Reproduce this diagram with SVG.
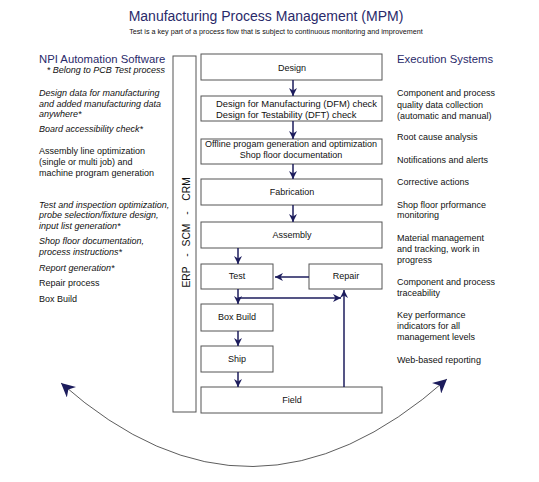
<svg xmlns="http://www.w3.org/2000/svg" width="539" height="482" viewBox="0 0 539 482">
<defs>
<style>
.box{fill:#fff;stroke:#555;stroke-width:1}
.t{font-family:"Liberation Sans",Arial,sans-serif;font-size:9px;fill:#111}
.c{text-anchor:middle}
.i{font-style:italic}
.hd{font-family:"Liberation Sans",Arial,sans-serif;font-size:11.3px;fill:#2a2a6a}
.v{font-family:"Liberation Sans",Arial,sans-serif;font-size:10.3px;fill:#111;text-anchor:middle}
.flow{stroke:#1c1c5c;stroke-width:1.5;fill:none}
.arc{stroke:#333;stroke-width:0.8;fill:none}
</style>
<marker id="ah" viewBox="0 0 10 10" refX="10" refY="5" markerWidth="8" markerHeight="8" markerUnits="userSpaceOnUse" orient="auto">
<path d="M0,0 L10,5 L0,10 L3,5 Z" fill="#1c1c5c"/>
</marker>
<marker id="ab" viewBox="0 0 10 10" refX="10" refY="5" markerWidth="14" markerHeight="14" markerUnits="userSpaceOnUse" orient="auto-start-reverse">
<path d="M0,0 L10,5 L0,10 L3,5 Z" fill="#1c1c5c"/>
</marker>
</defs>
<rect width="539" height="482" fill="#fff"/>
<g id="title">
<text x="266" y="21" class="c" style="font-family:'Liberation Sans',Arial,sans-serif;font-size:14px;fill:#2a2a6a">Manufacturing Process Management (MPM)</text>
<text x="276" y="34" class="c" style="font-family:'Liberation Sans',Arial,sans-serif;font-size:7.2px;fill:#111">Test is a key part of a process flow that is subject to continuous monitoring and improvement</text>
</g>
<g id="npi">
<text x="39" y="63" class="hd">NPI Automation Software</text>
<text x="165" y="73" class="t i" text-anchor="end">* Belong to PCB Test process</text>
<text x="39" y="96" class="t i">Design data for manufacturing</text>
<text x="39" y="107" class="t i">and added manufacturing data</text>
<text x="39" y="117" class="t i">anywhere*</text>
<text x="39" y="132" class="t i">Board accessibility check*</text>
<text x="39" y="154" class="t">Assembly line optimization</text>
<text x="39" y="165" class="t">(single or multi job) and</text>
<text x="39" y="176" class="t">machine program generation</text>
<text x="39" y="208" class="t i">Test and inspection optimization,</text>
<text x="39" y="218" class="t i">probe selection/fixture design,</text>
<text x="39" y="229" class="t i">input list generation*</text>
<text x="39" y="244" class="t i">Shop floor documentation,</text>
<text x="39" y="255" class="t i">process instructions*</text>
<text x="39" y="271" class="t i">Report generation*</text>
<text x="39" y="286" class="t">Repair process</text>
<text x="39" y="302" class="t">Box Build</text>
</g>
<g id="exec">
<text x="397" y="63" class="hd">Execution Systems</text>
<text x="397" y="96" class="t">Component and process</text>
<text x="397" y="108" class="t">quality data collection</text>
<text x="397" y="119" class="t">(automatic and manual)</text>
<text x="397" y="140" class="t">Root cause analysis</text>
<text x="397" y="163" class="t">Notifications and alerts</text>
<text x="397" y="185" class="t">Corrective actions</text>
<text x="397" y="208" class="t">Shop floor prformance</text>
<text x="397" y="218" class="t">monitoring</text>
<text x="397" y="241" class="t">Material management</text>
<text x="397" y="252" class="t">and tracking, work in</text>
<text x="397" y="263" class="t">progress</text>
<text x="397" y="285" class="t">Component and process</text>
<text x="397" y="296" class="t">traceability</text>
<text x="397" y="318" class="t">Key performance</text>
<text x="397" y="329" class="t">indicators for all</text>
<text x="397" y="340" class="t">management levels</text>
<text x="397" y="363" class="t">Web-based reporting</text>
</g>
<g id="erp">
<rect x="173" y="56" width="23" height="356" class="box"/>
<text transform="translate(189.5,277) rotate(-90)" class="v">ERP</text>
<text transform="translate(189.5,255) rotate(-90)" class="v">-</text>
<text transform="translate(189.5,235) rotate(-90)" class="v">SCM</text>
<text transform="translate(189.5,213) rotate(-90)" class="v">-</text>
<text transform="translate(189.5,189) rotate(-90)" class="v">CRM</text>
</g>
<g id="design"><rect x="201" y="54" width="181" height="26" class="box"/><text x="292" y="71" class="t c">Design</text></g>
<g id="dfm"><rect x="201" y="96" width="181" height="25" class="box"/><text x="216" y="107" class="t" style="font-size:9.4px">Design for Manufacturing (DFM) check</text><text x="216" y="118" class="t" style="font-size:9.4px">Design for Testability (DFT) check</text></g>
<g id="offline"><rect x="201" y="139" width="181" height="25" class="box"/><text x="291" y="147" class="t c">Offline progam generation and optimization</text><text x="291" y="158" class="t c">Shop floor documentation</text></g>
<g id="fabrication"><rect x="201" y="179" width="181" height="26" class="box"/><text x="292" y="195" class="t c">Fabrication</text></g>
<g id="assembly"><rect x="201" y="222" width="181" height="26" class="box"/><text x="292" y="238" class="t c">Assembly</text></g>
<g id="test"><rect x="201" y="264" width="72" height="25" class="box"/><text x="237" y="279" class="t c">Test</text></g>
<g id="repair"><rect x="309" y="264" width="73" height="25" class="box"/><text x="346" y="279" class="t c">Repair</text></g>
<g id="boxbuild"><rect x="201" y="304" width="72" height="27" class="box"/><text x="237" y="320" class="t c">Box Build</text></g>
<g id="ship"><rect x="201" y="346" width="72" height="26" class="box"/><text x="237" y="362" class="t c">Ship</text></g>
<g id="field"><rect x="201" y="387" width="181" height="26" class="box"/><text x="292" y="403" class="t c">Field</text></g>
<g id="connectors">
<line x1="293" y1="80" x2="293" y2="96" class="flow" marker-end="url(#ah)"/>
<line x1="293" y1="121" x2="293" y2="139" class="flow" marker-end="url(#ah)"/>
<line x1="293" y1="164" x2="293" y2="179" class="flow" marker-end="url(#ah)"/>
<line x1="293" y1="205" x2="293" y2="222" class="flow" marker-end="url(#ah)"/>
<line x1="238" y1="248" x2="238" y2="264" class="flow" marker-end="url(#ah)"/>
<line x1="238" y1="289" x2="238" y2="304" class="flow" marker-end="url(#ah)"/>
<line x1="238" y1="298" x2="341" y2="298" class="flow" marker-end="url(#ah)"/>
<line x1="309" y1="277" x2="275" y2="277" class="flow" marker-end="url(#ah)"/>
<line x1="344" y1="387" x2="344" y2="290" class="flow" marker-end="url(#ah)"/>
<line x1="238" y1="331" x2="238" y2="346" class="flow" marker-end="url(#ah)"/>
<line x1="238" y1="372" x2="238" y2="387" class="flow" marker-end="url(#ah)"/>
<path d="M61,383 Q252,552 447,379" class="arc" marker-start="url(#ab)" marker-end="url(#ab)"/>
</g>
</svg>
